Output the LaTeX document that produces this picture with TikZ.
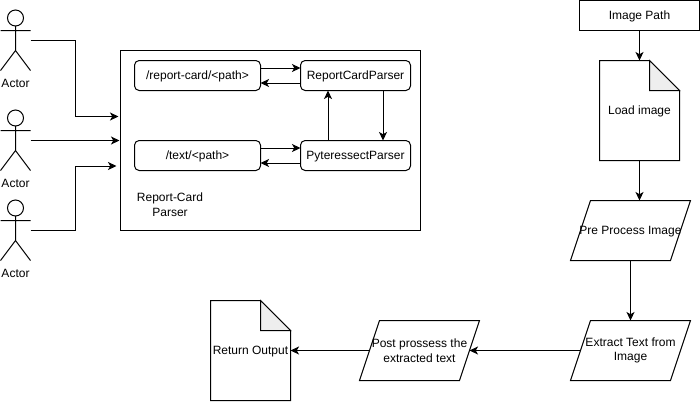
\documentclass[tikz,border=0pt]{standalone}
\usepackage{fontspec}
\setmainfont{Liberation Sans}
\usetikzlibrary{arrows.meta,positioning,calc}
\definecolor{foldgray}{HTML}{EEEEEE}
\tikzset{
  oneline/.style={text height=7pt,text depth=1pt},
  plainbox/.style={draw=black,line width=0.75pt,outer sep=0pt,inner sep=0pt,align=center},
  route/.style={plainbox,oneline,rounded corners=3.5pt,minimum height=22.5pt,minimum width=94.5pt},
  parser/.style={plainbox,oneline,rounded corners=3.5pt,minimum height=22.5pt,minimum width=82.5pt},
  docbox/.style={oneline,outer sep=0pt,inner sep=0pt,align=center,minimum height=75pt,minimum width=60pt},
  parabox/.style={outer sep=0pt,inner sep=0pt,align=center,minimum height=45pt,minimum width=90pt},
  outline/.style={draw=black,line width=0.75pt,line join=miter},
  arrow/.style={-{Stealth[length=6.4pt,width=6pt,inset=1.7pt]},line width=0.75pt,draw=black}
}
\newcommand{\docoutline}[1]{
  \draw[outline] (#1.north west) -- ($(#1.north east)+(-30,0)$) -- ($(#1.north east)+(0,30)$) -- (#1.south east) -- (#1.south west) -- cycle;
  \draw[outline,fill=foldgray] ($(#1.north east)+(-30,0)$) -- ($(#1.north east)+(-30,30)$) -- ($(#1.north east)+(0,30)$) -- cycle;
}
\newcommand{\paraoutline}[1]{
  \draw[outline] ($(#1.north west)+(20,0)$) -- (#1.north east) -- ($(#1.south east)+(-20,0)$) -- (#1.south west) -- cycle;
}
\begin{document}
\begin{tikzpicture}[x=0.75pt,y=-0.75pt,font=\fontsize{9}{11}\selectfont,node distance=30pt]
    \useasboundingbox (0,0) rectangle (700,401);
    % actors
    \foreach \n/\y in {one/0,two/100,three/190}{
      \begin{scope}[yshift=-0.75pt*\y]
        \draw[outline] (15.5,18) circle[radius=8];
        \draw[outline] (15.5,26) -- (15.5,50.5) (0.5,30.5) -- (30.5,30.5) (0.5,70.5) -- (15.5,50.5) -- (30.5,70.5);
        \node[oneline,inner sep=0pt] (label\n) at (15.5,83.5) {Actor};
        \coordinate (actor\n) at (30.5,40.5);
      \end{scope}
    }
    % parser box
    \node[plainbox,minimum width=225pt,minimum height=135pt] (frame) at (270.5,140.5) {};
    \node[route] (report) at (197.5,75.5) {/report-card/<path>};
    \node[parser,right=30pt of report] (reportparser) {ReportCardParser};
    \node[route,below=37.5pt of report] (text) {/text/<path>};
    \node[parser,right=30pt of text] (tessparser) {PyteressectParser};
    \node[inner sep=0pt,align=center] (title) at (170,205) {Report-Card\\Parser};
    \coordinate (inone) at (118.5,116.5);
    \coordinate (intwo) at (119.5,140.5);
    \coordinate (inthree) at (116.5,166);
    \draw[arrow] (actorone) -| (75.5,116.5) -- (inone);
    \draw[arrow] (actortwo) -- (intwo);
    \draw[arrow] (actorthree) -| (75.5,166) -- (inthree);
    \draw[arrow] ([yshift=5.625pt]report.east) -- ([yshift=5.625pt]reportparser.west);
    \draw[arrow] ([yshift=-5.625pt]reportparser.west) -- ([yshift=-5.625pt]report.east);
    \draw[arrow] ([yshift=5.625pt]text.east) -- ([yshift=5.625pt]tessparser.west);
    \draw[arrow] ([yshift=-5.625pt]tessparser.west) -- ([yshift=-5.625pt]text.east);
    \draw[arrow] ([xshift=-20.625pt]tessparser.north) -- ([xshift=-20.625pt]reportparser.south);
    \draw[arrow] ([xshift=20.625pt]reportparser.south) -- ([xshift=20.625pt]tessparser.north);
    % image flow
    \node[plainbox,oneline,minimum width=90pt,minimum height=22.5pt] (imagepath) at (639.5,15.5) {Image Path};
    \node[docbox,below=22.5pt of imagepath] (loadimage) {Load image};
    \node[parabox,oneline] (preprocess) at (630.5,230.5) {Pre Process Image};
    \node[parabox,below=45pt of preprocess] (extract) {Extract Text from\\Image};
    \node[parabox,left=68.25pt of extract] (postprocess) {Post prossess the\\extracted text};
    \node[docbox] (output) at (250.5,350.5) {Return Output};
    \docoutline{loadimage}
    \docoutline{output}
    \paraoutline{preprocess}
    \paraoutline{extract}
    \paraoutline{postprocess}
    \draw[arrow] (imagepath) -- (loadimage);
    \draw[arrow] (loadimage.south) -- (loadimage.south |- preprocess.north);
    \draw[arrow] (preprocess) -- (extract);
    \draw[arrow] ($(extract.west)+(10,0)$) -- ($(postprocess.east)+(-10,0)$);
    \draw[arrow] ($(postprocess.west)+(10,0)$) -- (output.east);
  \end{tikzpicture}
\end{document}
